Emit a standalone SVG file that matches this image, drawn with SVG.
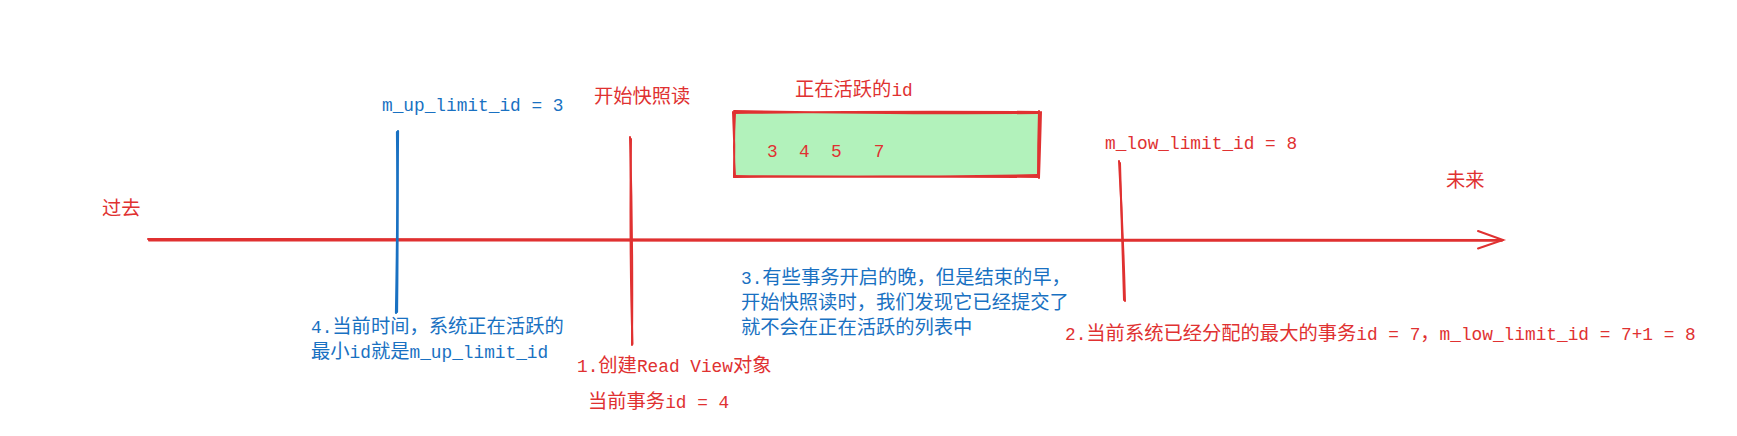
<svg xmlns="http://www.w3.org/2000/svg" width="1737" height="436" viewBox="0 0 1737 436">
<style>
text{font-family:"Liberation Mono","Noto Sans CJK SC",monospace;font-size:17.8px}
.c{font-family:"Noto Sans CJK SC","Liberation Mono",sans-serif;font-size:19.3px}
.r{fill:#e03131}
.b{fill:#1971c2}
.rs{stroke:#e03131;fill:none;stroke-width:2;stroke-linecap:round}
.bs{stroke:#1971c2;fill:none;stroke-width:2.2;stroke-linecap:round}
</style>
<rect width="1737" height="436" fill="#ffffff"/>
<g id="connectors">
<path class="rs" d="M148 239 Q800 241 1503 240"/>
<path class="rs" d="M149 240.5 Q820 238.5 1502 240.8"/>
<path class="rs" d="M1478 231 L1503 240 L1478 248.5"/>
<path class="bs" d="M398 131 Q397.5 220 396 313"/>
<path class="bs" d="M397 132 Q398 230 397 312"/>
<path class="rs" d="M630 137 Q633 240 632 345"/>
<path class="rs" d="M631 139 Q629.5 250 632.5 344"/>
<path class="rs" d="M1119 161 Q1123 230 1125 301"/>
<path class="rs" d="M1120 163 Q1122 240 1124 300"/>
</g>
<g id="past"><text class="r c" x="102" y="215">过去</text></g>
<g id="future"><text class="r c" x="1446" y="187">未来</text></g>
<g id="up-limit"><text class="b" x="382" y="111">m_up_limit_id = 3</text></g>
<g id="start-read"><text class="r c" x="594" y="103">开始快照读</text></g>
<g id="active-title"><text class="r" x="795" y="96"><tspan class="c">正在活跃的</tspan>id</text></g>
<g id="active-box">
<rect x="735" y="112" width="303" height="64" fill="#b2f2bb"/>
<path class="rs" d="M733 113 Q880 111 1039 112 M734 111 Q890 114 1038 113"/>
<path class="rs" d="M1039 111 Q1038 145 1038 177 M1041 112 Q1040 150 1039 178"/>
<path class="rs" d="M1039 177 Q880 176 734 177 M1038 175 Q890 178 735 176"/>
<path class="rs" d="M733 112 Q735 145 734 177 M735 113 Q733 150 735 176"/>
<text class="r" x="767" y="157" xml:space="preserve">3  4  5   7</text>
</g>
<g id="low-limit"><text class="r" x="1105" y="149">m_low_limit_id = 8</text></g>
<g id="note-4">
<text class="b" x="311" y="333">4.<tspan class="c">当前时间，系统正在活跃的</tspan></text>
<text class="b" x="311" y="358"><tspan class="c">最小</tspan>id<tspan class="c">就是</tspan>m_up_limit_id</text>
</g>
<g id="note-1">
<text class="r" x="577" y="372">1.<tspan class="c">创建</tspan>Read View<tspan class="c">对象</tspan></text>
<text class="r" x="588" y="408"><tspan class="c">当前事务</tspan>id = 4</text>
</g>
<g id="note-3">
<text class="b" x="741" y="284">3.<tspan class="c">有些事务开启的晚，但是结束的早，</tspan></text>
<text class="b c" x="741" y="309">开始快照读时，我们发现它已经提交了</text>
<text class="b c" x="741" y="334">就不会在正在活跃的列表中</text>
</g>
<g id="note-2"><text class="r" x="1065" y="340">2.<tspan class="c">当前系统已经分配的最大的事务</tspan>id = 7<tspan class="c">，</tspan>m_low_limit_id = 7+1 = 8</text></g>
</svg>
